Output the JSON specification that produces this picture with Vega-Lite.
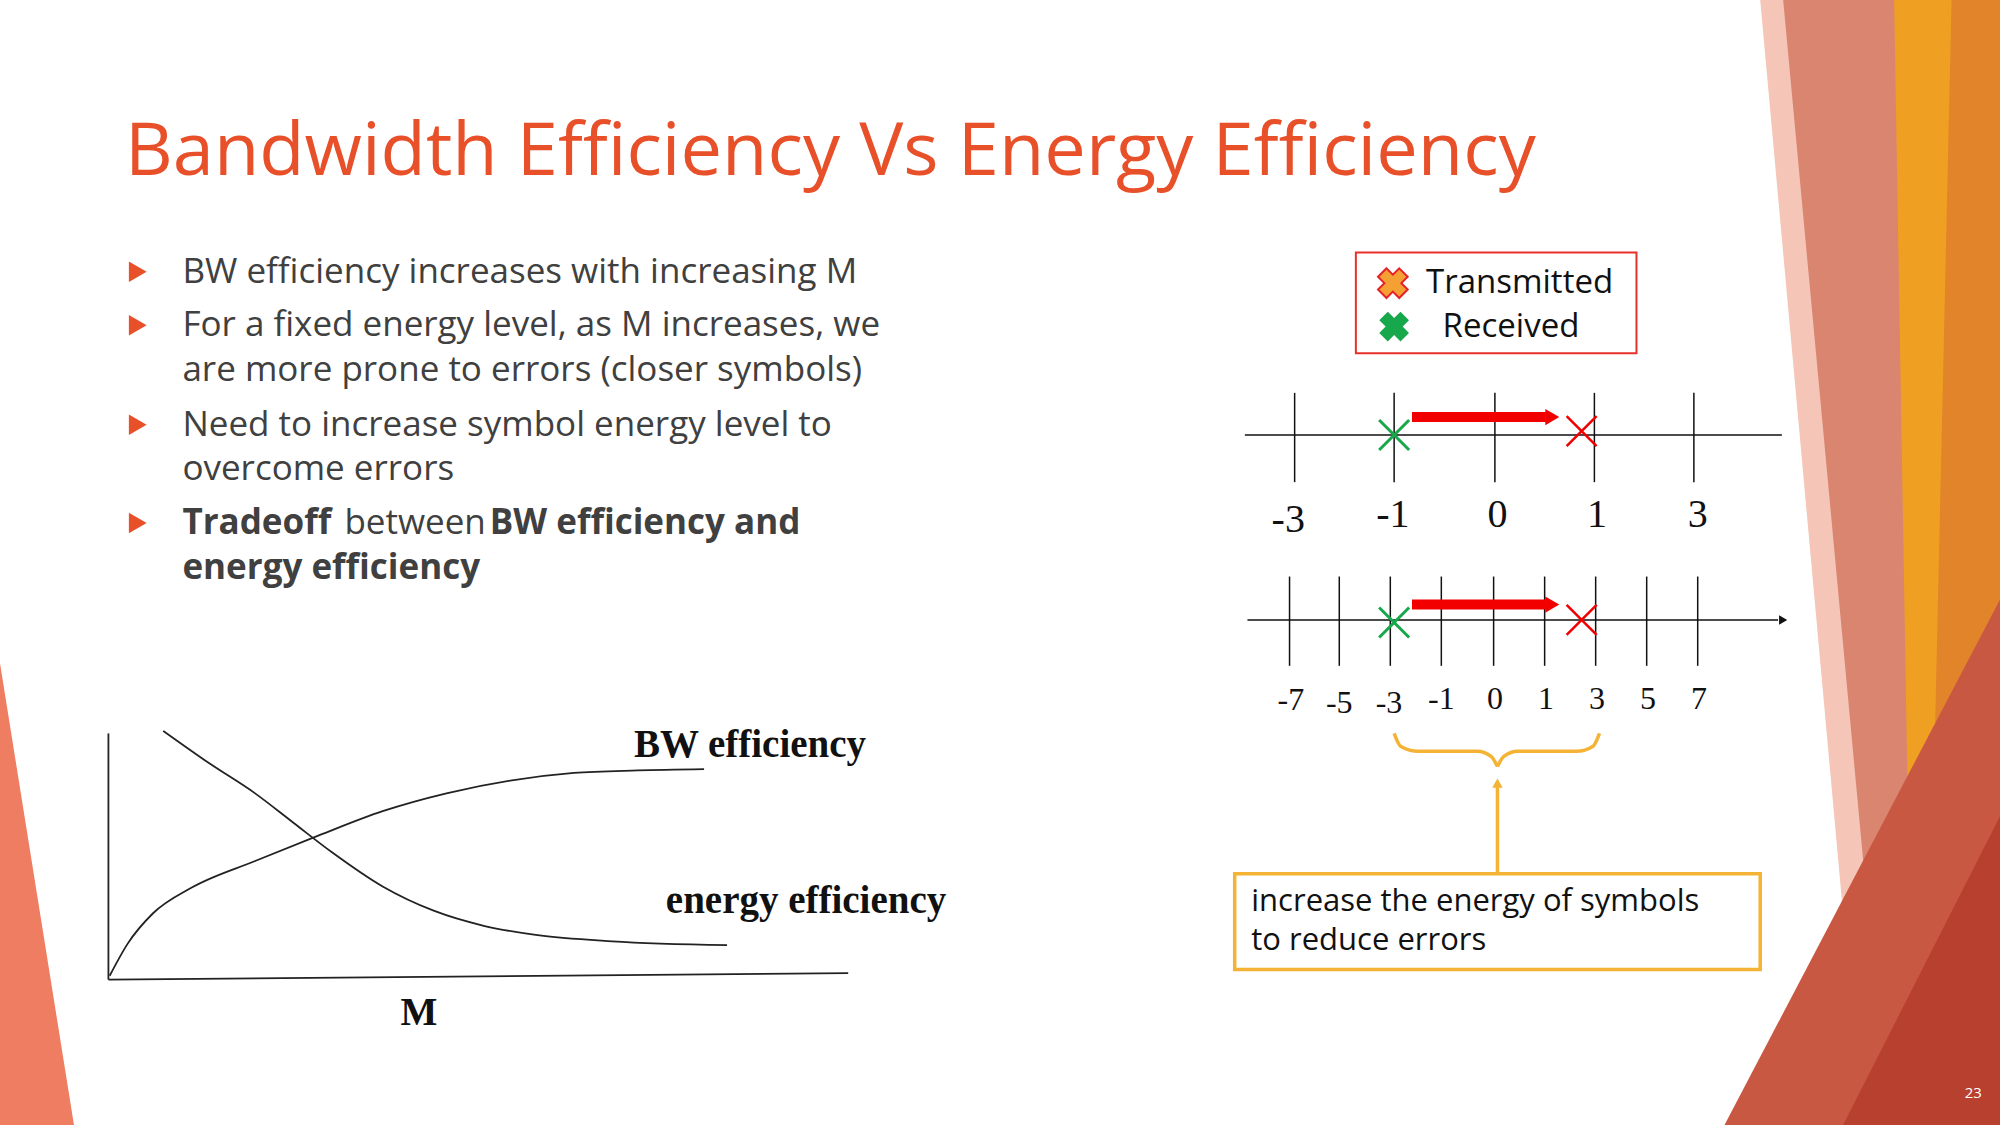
{
  "$schema": "https://vega.github.io/schema/vega-lite/v6.json",
  "width": 2000,
  "height": 1125,
  "autosize": {"type": "fit", "contains": "padding"},
  "padding": 0,
  "background": "white",
  "config": {"view": {"stroke": null}},
  "encoding": {
    "x": {"field": "x", "type": "quantitative", "axis": null, "scale": {"domain": [0, 1568], "nice": false, "zero": false}},
    "y": {"field": "y", "type": "quantitative", "axis": null, "scale": {"domain": [0, 882], "nice": false, "zero": false, "reverse": true}}
  },
  "layer": [
    {
      "data": {"values": [
        {"s": "a", "y": 0, "x": 1380, "x2": 1568}, {"s": "a", "y": 882, "x": 1460, "x2": 1568},
        {"s": "b", "y": 0, "x": 1398, "x2": 1490}, {"s": "b", "y": 882, "x": 1480, "x2": 1568},
        {"s": "c", "y": 0, "x": 1485, "x2": 1568}, {"s": "c", "y": 882, "x": 1500, "x2": 1568},
        {"s": "d", "y": 0, "x": 1530, "x2": 1568}, {"s": "d", "y": 882, "x": 1510, "x2": 1568},
        {"s": "e", "y": 470, "x": 1568, "x2": 1568}, {"s": "e", "y": 882, "x": 1352, "x2": 1568},
        {"s": "f", "y": 640, "x": 1568, "x2": 1568}, {"s": "f", "y": 882, "x": 1445, "x2": 1568},
        {"s": "g", "y": 520, "x": 0, "x2": 0}, {"s": "g", "y": 882, "x": 0, "x2": 58}
      ]},
      "mark": {"type": "area", "orient": "horizontal"},
      "encoding": {
        "x2": {"field": "x2"},
        "detail": {"field": "s"},
        "color": {"field": "s", "type": "nominal", "legend": null,
          "scale": {"domain": ["a", "b", "c", "d", "e", "f", "g"],
            "range": ["#F5C6B8", "#D98570", "#EFA022", "#E2852A", "#C95843", "#B8402E", "#EE7D62"]}}
      }
    },
    {
      "data": {"values": [{"x": 98, "y": 120, "t": "Bandwidth Efficiency Vs Energy Efficiency"}]},
      "mark": {"type": "text", "align": "left", "baseline": "middle", "font": "Open Sans", "fontSize": 74, "color": "#E8502A"},
      "encoding": {"text": {"field": "t"}}
    },
    {
      "data": {"values": [{"x": 108, "y": 213}, {"x": 108, "y": 255}, {"x": 108, "y": 333}, {"x": 108, "y": 410}]},
      "mark": {"type": "point", "shape": "triangle-right", "filled": true, "size": 420, "color": "#E8502A", "opacity": 1},
      "encoding": {}
    },
    {
      "data": {"values": [
        {"x": 143, "y": 213, "t": "BW efficiency increases with increasing M"},
        {"x": 143, "y": 255, "t": "For a fixed energy level, as M increases, we"},
        {"x": 143, "y": 290, "t": "are more prone to errors (closer symbols)"},
        {"x": 143, "y": 333, "t": "Need to increase symbol energy level to"},
        {"x": 143, "y": 368, "t": "overcome errors"},
        {"x": 270, "y": 410, "t": "between"}
      ]},
      "mark": {"type": "text", "align": "left", "baseline": "middle", "font": "Open Sans", "fontSize": 35, "color": "#404040"},
      "encoding": {"text": {"field": "t"}}
    },
    {
      "data": {"values": [
        {"x": 143, "y": 410, "t": "Tradeoff"},
        {"x": 384, "y": 410, "t": "BW efficiency and"},
        {"x": 143, "y": 445, "t": "energy efficiency"}
      ]},
      "mark": {"type": "text", "align": "left", "baseline": "middle", "font": "Open Sans", "fontSize": 35, "fontWeight": "bold", "color": "#404040"},
      "encoding": {"text": {"field": "t"}}
    },
    {
      "data": {"values": [
        {"s": "ax1", "o": 1, "x": 85, "y": 575}, {"s": "ax1", "o": 2, "x": 85, "y": 768},
        {"s": "ax2", "o": 1, "x": 85, "y": 768}, {"s": "ax2", "o": 2, "x": 665, "y": 763},
        {"s": "bw", "o": 1, "x": 86, "y": 765}, {"s": "bw", "o": 2, "x": 100, "y": 740},
        {"s": "bw", "o": 3, "x": 120, "y": 716}, {"s": "bw", "o": 4, "x": 150, "y": 696},
        {"s": "bw", "o": 5, "x": 200, "y": 675}, {"s": "bw", "o": 6, "x": 250, "y": 655},
        {"s": "bw", "o": 7, "x": 300, "y": 636}, {"s": "bw", "o": 8, "x": 350, "y": 622},
        {"s": "bw", "o": 9, "x": 400, "y": 612}, {"s": "bw", "o": 10, "x": 450, "y": 606},
        {"s": "bw", "o": 11, "x": 500, "y": 604}, {"s": "bw", "o": 12, "x": 552, "y": 603},
        {"s": "ee", "o": 1, "x": 128, "y": 573}, {"s": "ee", "o": 2, "x": 165, "y": 599},
        {"s": "ee", "o": 3, "x": 200, "y": 622}, {"s": "ee", "o": 4, "x": 230, "y": 645},
        {"s": "ee", "o": 5, "x": 260, "y": 668}, {"s": "ee", "o": 6, "x": 300, "y": 695},
        {"s": "ee", "o": 7, "x": 340, "y": 714}, {"s": "ee", "o": 8, "x": 380, "y": 726},
        {"s": "ee", "o": 9, "x": 420, "y": 733}, {"s": "ee", "o": 10, "x": 480, "y": 738},
        {"s": "ee", "o": 11, "x": 570, "y": 741}
      ]},
      "mark": {"type": "line", "color": "#222222", "strokeWidth": 1.8, "interpolate": "monotone"},
      "encoding": {"detail": {"field": "s"}, "order": {"field": "o", "type": "quantitative"}}
    },
    {
      "data": {"values": [
        {"x": 497, "y": 584, "t": "BW efficiency"},
        {"x": 522, "y": 706, "t": "energy efficiency"},
        {"x": 314, "y": 794, "t": "M"}
      ]},
      "mark": {"type": "text", "align": "left", "baseline": "middle", "font": "Liberation Serif", "fontSize": 39, "fontWeight": "bold", "color": "#111111"},
      "encoding": {"text": {"field": "t"}}
    },
    {
      "data": {"values": [{"x": 1063, "x2": 1283, "y": 198, "y2": 277}]},
      "mark": {"type": "rect", "fill": "white", "stroke": "#E8302A", "strokeWidth": 2},
      "encoding": {"x2": {"field": "x2"}, "y2": {"field": "y2"}}
    },
    {
      "data": {"values": [{"x": 1092, "y": 222}]},
      "mark": {"type": "point", "shape": "cross", "angle": 45, "filled": true, "size": 900, "fill": "#F5A032", "stroke": "#E8202A", "strokeWidth": 2, "opacity": 1},
      "encoding": {}
    },
    {
      "data": {"values": [{"x": 1093, "y": 256}]},
      "mark": {"type": "point", "shape": "cross", "angle": 45, "filled": true, "size": 900, "color": "#16A84A", "opacity": 1},
      "encoding": {}
    },
    {
      "data": {"values": [{"x": 1118, "y": 222, "t": "Transmitted"}, {"x": 1131, "y": 256, "t": "Received"}]},
      "mark": {"type": "text", "align": "left", "baseline": "middle", "font": "Open Sans", "fontSize": 33, "color": "#111111"},
      "encoding": {"text": {"field": "t"}}
    },
    {
      "data": {"values": [
        {"x": 976, "x2": 1397, "y": 341, "y2": 341},
        {"x": 978, "x2": 1394, "y": 486, "y2": 486},
        {"x": 1015, "x2": 1015, "y": 308, "y2": 378},
        {"x": 1093, "x2": 1093, "y": 308, "y2": 378},
        {"x": 1172, "x2": 1172, "y": 308, "y2": 378},
        {"x": 1250, "x2": 1250, "y": 308, "y2": 378},
        {"x": 1328, "x2": 1328, "y": 308, "y2": 378},
        {"x": 1011, "x2": 1011, "y": 452, "y2": 522},
        {"x": 1050, "x2": 1050, "y": 452, "y2": 522},
        {"x": 1090, "x2": 1090, "y": 452, "y2": 522},
        {"x": 1130, "x2": 1130, "y": 452, "y2": 522},
        {"x": 1171, "x2": 1171, "y": 452, "y2": 522},
        {"x": 1211, "x2": 1211, "y": 452, "y2": 522},
        {"x": 1251, "x2": 1251, "y": 452, "y2": 522},
        {"x": 1291, "x2": 1291, "y": 452, "y2": 522},
        {"x": 1331, "x2": 1331, "y": 452, "y2": 522}
      ]},
      "mark": {"type": "rule", "color": "#111111", "strokeWidth": 1.5},
      "encoding": {"x2": {"field": "x2"}, "y2": {"field": "y2"}}
    },
    {
      "data": {"values": [{"x": 1398, "y": 486}]},
      "mark": {"type": "point", "shape": "triangle-right", "filled": true, "size": 90, "color": "#111111", "opacity": 1},
      "encoding": {}
    },
    {
      "data": {"values": [
        {"x": 1010, "y": 408, "t": "-3"}, {"x": 1092, "y": 404, "t": "-1"}, {"x": 1174, "y": 404, "t": "0"},
        {"x": 1252, "y": 404, "t": "1"}, {"x": 1331, "y": 404, "t": "3"}
      ]},
      "mark": {"type": "text", "align": "center", "baseline": "middle", "font": "Liberation Serif", "fontSize": 40, "color": "#111111"},
      "encoding": {"text": {"field": "t"}}
    },
    {
      "data": {"values": [
        {"x": 1012, "y": 549, "t": "-7"}, {"x": 1050, "y": 551, "t": "-5"}, {"x": 1089, "y": 551, "t": "-3"},
        {"x": 1130, "y": 548, "t": "-1"}, {"x": 1172, "y": 548, "t": "0"}, {"x": 1212, "y": 548, "t": "1"},
        {"x": 1252, "y": 548, "t": "3"}, {"x": 1292, "y": 548, "t": "5"}, {"x": 1332, "y": 548, "t": "7"}
      ]},
      "mark": {"type": "text", "align": "center", "baseline": "middle", "font": "Liberation Serif", "fontSize": 32, "color": "#111111"},
      "encoding": {"text": {"field": "t"}}
    },
    {
      "data": {"values": [{"x": 1107, "x2": 1212, "y": 327, "y2": 327}, {"x": 1107, "x2": 1212, "y": 474, "y2": 474}]},
      "mark": {"type": "rule", "color": "#F20000", "strokeWidth": 10},
      "encoding": {"x2": {"field": "x2"}, "y2": {"field": "y2"}}
    },
    {
      "data": {"values": [{"x": 1217, "y": 327}, {"x": 1217, "y": 474}]},
      "mark": {"type": "point", "shape": "triangle-right", "filled": true, "size": 260, "color": "#F20000", "opacity": 1},
      "encoding": {}
    },
    {
      "data": {"values": [{"x": 1093, "y": 341}, {"x": 1093, "y": 488}]},
      "mark": {"type": "point", "shape": "M-1,-1L1,1M-1,1L1,-1", "filled": false, "size": 900, "color": "#16A84A", "strokeWidth": 3, "opacity": 1},
      "encoding": {}
    },
    {
      "data": {"values": [{"x": 1240, "y": 338}, {"x": 1240, "y": 486}]},
      "mark": {"type": "point", "shape": "M-1,-1L1,1M-1,1L1,-1", "filled": false, "size": 900, "color": "#F20000", "strokeWidth": 2.5, "opacity": 1},
      "encoding": {}
    },
    {
      "data": {"values": [
        {"s": "l", "o": 1, "x": 1093, "y": 575}, {"s": "l", "o": 2, "x": 1098, "y": 585}, {"s": "l", "o": 3, "x": 1112, "y": 589},
        {"s": "l", "o": 4, "x": 1158, "y": 589}, {"s": "l", "o": 5, "x": 1169, "y": 593}, {"s": "l", "o": 6, "x": 1174, "y": 601},
        {"s": "r", "o": 1, "x": 1254, "y": 575}, {"s": "r", "o": 2, "x": 1249, "y": 585}, {"s": "r", "o": 3, "x": 1236, "y": 589},
        {"s": "r", "o": 4, "x": 1190, "y": 589}, {"s": "r", "o": 5, "x": 1179, "y": 593}, {"s": "r", "o": 6, "x": 1174, "y": 601},
        {"s": "v", "o": 1, "x": 1174, "y": 685}, {"s": "v", "o": 2, "x": 1174, "y": 616}
      ]},
      "mark": {"type": "line", "color": "#F5B335", "strokeWidth": 3.5, "interpolate": "monotone"},
      "encoding": {"detail": {"field": "s"}, "order": {"field": "o", "type": "quantitative"}}
    },
    {
      "data": {"values": [{"x": 1174, "y": 614}]},
      "mark": {"type": "point", "shape": "triangle-up", "filled": true, "size": 110, "color": "#F5B335", "opacity": 1},
      "encoding": {}
    },
    {
      "data": {"values": [{"x": 968, "x2": 1380, "y": 685, "y2": 760}]},
      "mark": {"type": "rect", "fill": "white", "stroke": "#F5B335", "strokeWidth": 3.5},
      "encoding": {"x2": {"field": "x2"}, "y2": {"field": "y2"}}
    },
    {
      "data": {"values": [{"x": 981, "y": 707, "t": "increase the energy of symbols"}, {"x": 981, "y": 738, "t": "to reduce errors"}]},
      "mark": {"type": "text", "align": "left", "baseline": "middle", "font": "Open Sans", "fontSize": 31, "color": "#111111"},
      "encoding": {"text": {"field": "t"}}
    },
    {
      "data": {"values": [{"x": 1547, "y": 857, "t": "23"}]},
      "mark": {"type": "text", "align": "center", "baseline": "middle", "font": "Open Sans", "fontSize": 15, "color": "white"},
      "encoding": {"text": {"field": "t"}}
    }
  ]
}
